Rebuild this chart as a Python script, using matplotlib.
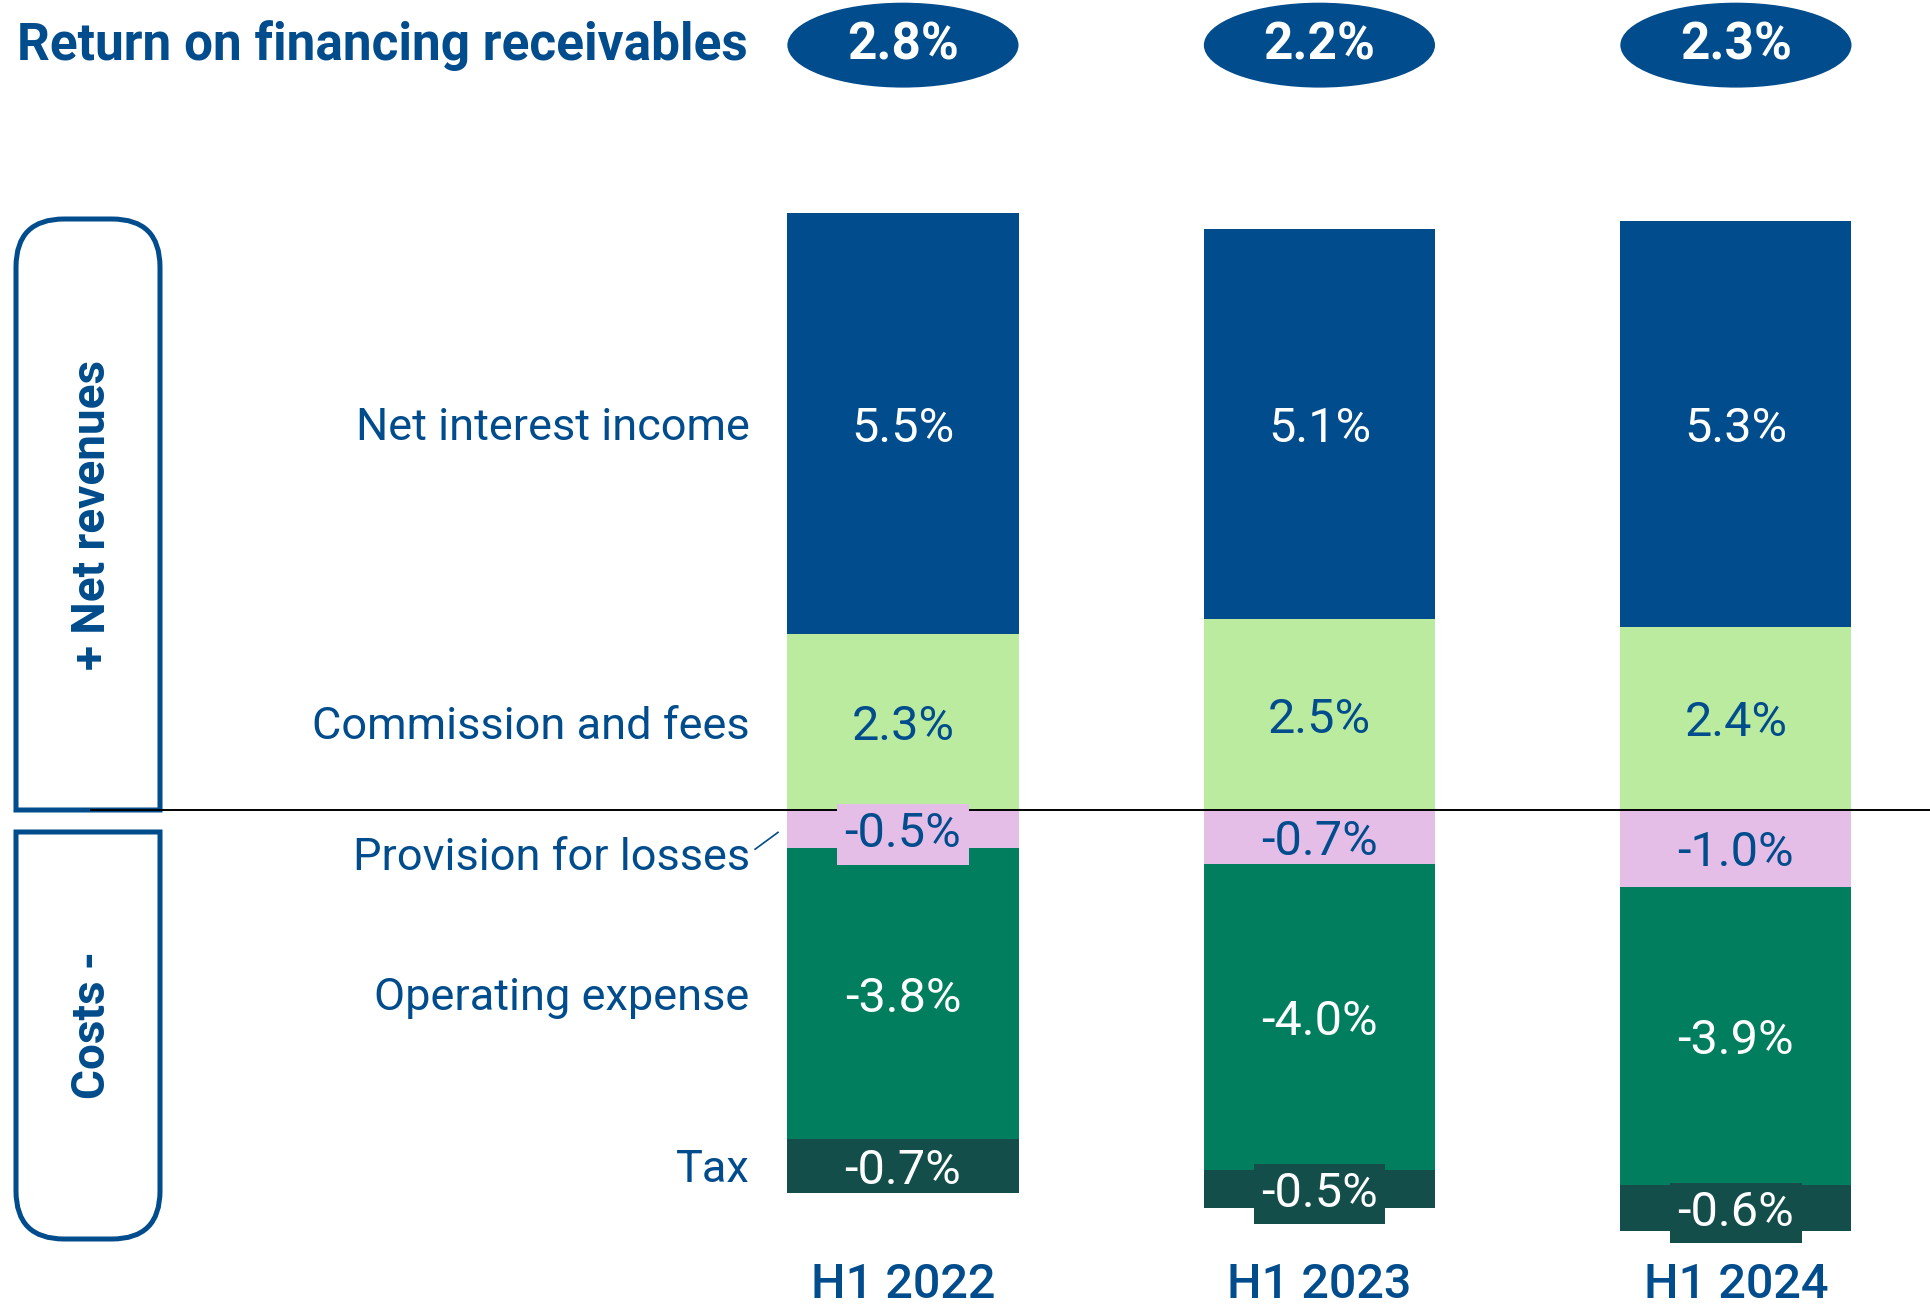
import matplotlib.pyplot as plt
from matplotlib.patches import Ellipse, PathPatch
from matplotlib.path import Path

plt.rcParams['font.family'] = ['Roboto', 'DejaVu Sans']

# data (% of average financing receivables)
periods = ["H1 2022", "H1 2023", "H1 2024"]
components = ["Net interest income", "Commission and fees", "Provision for losses",
              "Operating expense", "Tax"]
net_interest = [5.5, 5.1, 5.3]
commission = [2.3, 2.5, 2.4]
provision = [-0.5, -0.7, -1.0]
operating = [-3.8, -4.0, -3.9]
tax = [-0.7, -0.5, -0.6]
ror = [2.8, 2.2, 2.3]

BLUE = "#004C8C"
colors = ["#004C8C", "#BBEB9F", "#E5BEE8", "#007E5E", "#134E4A"]
text_colors = ["white", BLUE, BLUE, "white", "white"]

fig = plt.figure(figsize=(19.3, 13.09), dpi=100)

# frame layer in pixel units for the side boxes
deco = fig.add_axes([0, 0, 1, 1])
deco.set_xlim(0, 1930)
deco.set_ylim(1309, 0)
deco.axis("off")

ax = fig.add_axes([0, 0, 1, 1])
ax.patch.set_alpha(0)
ax.set_xlim(-2.168, 2.466)
ax.set_ylim(-6.52, 10.59)
ax.axis("off")

x = list(range(len(periods)))
width = 0.555

neg_series = [provision, operating, tax]

for i in x:
    # positive stack from commission upwards
    pos_vals = [net_interest[i], commission[i]]
    bottom = 0.0
    segs = []
    for k in [1, 0]:
        v = pos_vals[k]
        ax.bar(i, v, width, bottom=bottom, color=colors[k], zorder=2)
        segs.append((k, bottom + v / 2, v))
        bottom += v
    bottom = 0.0
    for j, ser in enumerate(neg_series):
        v = ser[i]
        k = j + 2
        ax.bar(i, v, width, bottom=bottom, color=colors[k], zorder=2)
        segs.append((k, bottom + v / 2, v))
        bottom += v
    for k, mid, v in segs:
        box = None
        if abs(v) < 0.7:
            box = dict(boxstyle="square,pad=0.15", facecolor=colors[k], edgecolor="none")
        ax.text(i, mid, f"{v:.1f}%", ha="center", va="center_baseline", fontsize=35,
                color=text_colors[k], bbox=box, zorder=4)
    # return on receivables badge
    ax.add_patch(Ellipse((i, 10.0), width, 1.11, facecolor=BLUE, edgecolor="none", zorder=3))
    ax.text(i, 10.0, f"{ror[i]:.1f}%", ha="center", va="center", fontsize=37,
            fontweight="bold", color="white", zorder=4)
    ax.text(i, -6.38, periods[i], ha="center", va="baseline", fontsize=35,
            fontweight="medium", color=BLUE)

# zero line
ax.axhline(0, xmin=0.047, xmax=1, color="black", lw=1.4, zorder=3)

# component labels, aligned with the first bar
label_x = -0.368
prov_y = provision[0] / 2 - 0.32
mids = [commission[0] + net_interest[0] / 2, commission[0] / 2, prov_y,
        provision[0] + operating[0] / 2,
        provision[0] + operating[0] + tax[0] / 2]
for name, m in zip(components, mids):
    ax.text(label_x, m, name, ha="right", va="center_baseline", fontsize=32.5, color=BLUE)
ax.plot([label_x + 0.013, label_x + 0.068], [prov_y + 0.06, prov_y + 0.28],
        color=BLUE, lw=1.2)

fig.text(0.009, 1 - 46 / 1309, "Return on financing receivables", ha="left", va="center",
         fontsize=37, fontweight="bold", color=BLUE)

# side frames: rounded on the outer ends only
def frame(x0, x1, y0, y1, r, top):
    if top:
        verts = [(x0, y1), (x0, y0 + r), (x0, y0), (x0 + r, y0), (x1 - r, y0),
                 (x1, y0), (x1, y0 + r), (x1, y1), (x0, y1)]
    else:
        verts = [(x0, y0), (x0, y1 - r), (x0, y1), (x0 + r, y1), (x1 - r, y1),
                 (x1, y1), (x1, y1 - r), (x1, y0), (x0, y0)]
    codes = [Path.MOVETO, Path.LINETO, Path.CURVE3, Path.CURVE3, Path.LINETO,
             Path.CURVE3, Path.CURVE3, Path.LINETO, Path.CLOSEPOLY]
    deco.add_patch(PathPatch(Path(verts, codes), facecolor="none", edgecolor=BLUE, lw=3.6))

frame(16, 160, 219, 810, 48, True)
frame(16, 160, 832, 1239, 48, False)
deco.text(92, 515, "+ Net revenues", rotation=90, ha="center", va="center",
          fontsize=33, fontweight="bold", color=BLUE)
deco.text(92, 1025, "Costs -", rotation=90, ha="center", va="center",
          fontsize=33, fontweight="bold", color=BLUE)

fig.savefig("out.png", dpi=100)
